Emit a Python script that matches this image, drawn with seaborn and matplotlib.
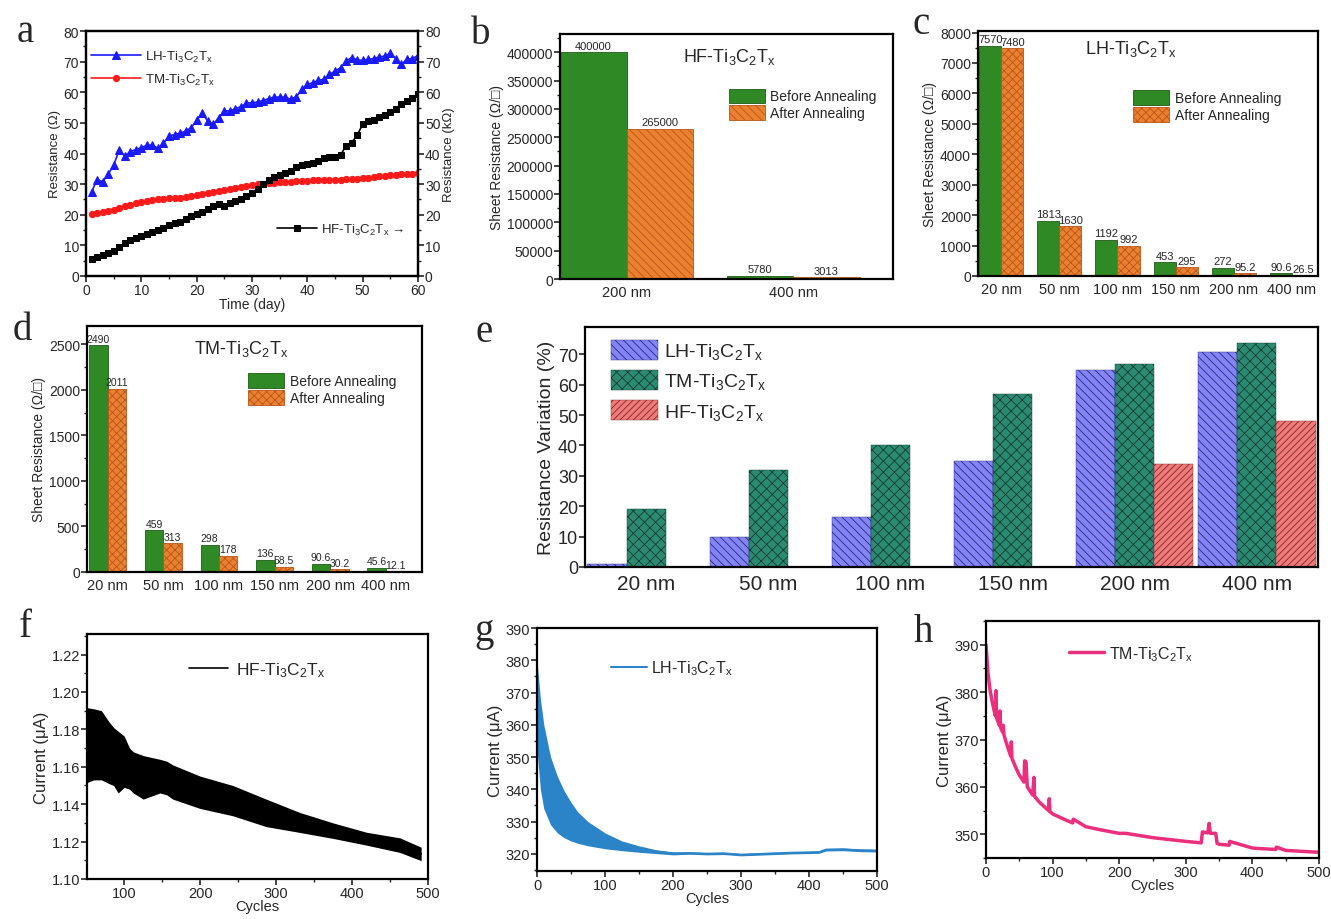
import numpy as np
import pandas as pd
import matplotlib
matplotlib.use("Agg")
import matplotlib.pyplot as plt
from matplotlib.ticker import MultipleLocator
import seaborn as sns

# ---------------- data ----------------
# a: resistance vs storage time
days = list(range(1, 61))
lh_res = [27.4, 31.5, 30.8, 33.2, 36.2, 41.1, 39.2, 40.6, 41.3, 41.9,
          42.7, 42.7, 41.7, 43.3, 45.7, 46.2, 46.6, 47.3, 48.4, 50.9,
          53.1, 50.6, 49.5, 51.7, 53.9, 53.9, 54.6, 55.3, 56.4, 56.6,
          56.8, 57.3, 57.9, 58.4, 58.4, 58.4, 57.7, 58.5, 60.9, 62.6,
          63.1, 63.9, 64.2, 65.8, 66.9, 68.0, 70.2, 71.3, 70.5, 70.4,
          70.7, 71.0, 71.5, 71.8, 72.7, 71.0, 69.1, 70.7, 71.0, 72.0]
tm_res = [20.2, 20.5, 20.8, 21.2, 21.7, 22.3, 22.8, 23.3, 23.8, 24.2,
          24.5, 24.8, 25.0, 25.2, 25.5, 25.5, 25.6, 25.8, 26.2, 26.5,
          26.8, 27.1, 27.4, 27.7, 28.0, 28.4, 28.8, 29.1, 29.4, 29.7,
          29.9, 30.1, 30.3, 30.5, 30.6, 30.7, 30.8, 30.9, 31.0, 31.1,
          31.2, 31.3, 31.4, 31.4, 31.5, 31.5, 31.6, 31.7, 31.8, 32.0,
          31.9, 32.2, 32.5, 32.7, 32.9, 33.0, 33.2, 33.3, 33.4, 33.5]
hf_res = [5.5, 6.2, 7.0, 7.5, 8.3, 9.5, 10.8, 11.6, 12.5, 13.2,
          13.8, 14.4, 15.0, 15.7, 16.5, 17.2, 17.5, 18.5, 19.5, 20.3,
          21.0, 21.8, 22.7, 23.4, 23.0, 23.8, 24.5, 25.0, 26.0, 27.2,
          28.5, 30.0, 31.3, 32.3, 33.0, 33.5, 34.2, 35.5, 36.2, 36.5,
          37.0, 37.5, 38.5, 38.8, 39.0, 39.5, 42.5, 43.5, 46.0, 49.5,
          50.5, 51.0, 51.8, 52.5, 53.5, 54.5, 56.0, 57.0, 58.0, 59.3]

# b, c, d: sheet resistance before / after annealing
hf_thick = ['200 nm', '400 nm']
hf_before = [400000, 5780]
hf_after = [265000, 3013]
thick = ['20 nm', '50 nm', '100 nm', '150 nm', '200 nm', '400 nm']
lh_before = [7570, 1813, 1192, 453, 272, 90.6]
lh_after = [7480, 1630, 992, 295, 95.2, 26.5]
tm_before = [2490, 459, 298, 136, 90.6, 45.6]
tm_after = [2011, 313, 178, 58.5, 30.2, 12.1]

# e: resistance variation (%)
var_lh = [0.9, 10.0, 16.6, 35.0, 64.9, 70.8]
var_tm = [19.1, 31.9, 40.3, 57.1, 66.7, 73.6]
var_hf = [np.nan, np.nan, np.nan, np.nan, 33.8, 47.9]

# f: HF current band (upper / lower envelope)
f_cyc = [51, 60, 70, 80, 86, 92, 100, 107, 112, 125, 147, 156, 164, 200,
         243, 287, 331, 375, 419, 463, 491]
f_upper = [1.1916, 1.191, 1.190, 1.184, 1.181, 1.179, 1.1764, 1.170, 1.168,
           1.166, 1.164, 1.163, 1.161, 1.155, 1.150, 1.1427, 1.1356, 1.130,
           1.125, 1.122, 1.117]
f_lower = [1.1516, 1.153, 1.153, 1.151, 1.150, 1.146, 1.149, 1.148, 1.146,
           1.1427, 1.146, 1.145, 1.1427, 1.1377, 1.1338, 1.128, 1.1249,
           1.1217, 1.1181, 1.1142, 1.1098]

# g: LH current band
g_cyc = [0, 5, 10, 20, 30, 40, 50, 60, 75, 100, 125, 150, 175, 200, 225,
         250, 275, 300, 325, 350, 375, 400, 415, 425, 450, 475, 500]
g_upper = [380, 368, 360, 350, 344, 339.5, 336, 333, 330, 326.5, 324, 322.5,
           321.3, 320.6, 320.6, 320.4, 320.5, 320.1, 320.3, 320.5, 320.7,
           320.8, 320.9, 321.7, 321.8, 321.5, 321.4]
g_lower = [352, 340, 334, 329, 326.5, 325, 324, 323.3, 322.5, 321.6, 321,
           320.5, 320.1, 319.7, 319.9, 319.7, 319.8, 319.4, 319.6, 319.8,
           320.0, 320.1, 320.2, 320.9, 321.0, 320.7, 320.6]

# h: TM current trace
h_cyc = [0, 3, 6, 10, 14, 15, 16, 20, 21, 22, 25, 26, 27, 30, 37, 38, 39,
         45, 50, 57, 58, 60, 62, 63, 70, 72, 73, 80, 94, 95, 96, 100, 120,
         130, 131, 150, 170, 200, 210, 250, 300, 323, 325, 333, 335, 337,
         345, 347, 350, 365, 366, 400, 410, 435, 436, 450, 500]
h_cur = [390, 384, 380.5, 377.5, 375, 380.3, 374.5, 373, 376, 372.5, 371.5,
         373, 371, 369.5, 366.5, 369.5, 366, 364, 362.5, 361, 365.5, 365.3,
         360, 359.8, 358.3, 362, 358, 356.8, 355, 357.5, 354.8, 354.3, 353,
         352.4, 353.2, 351.6, 351, 350.2, 350.2, 349.3, 348.5, 348.2, 350.5,
         350.3, 352.3, 350.2, 350.2, 348.1, 347.9, 347.7, 348.5, 347.1, 347.0,
         346.8, 347.3, 346.6, 346.2]

LH = 'LH-Ti$_3$C$_2$T$_x$'
TM = 'TM-Ti$_3$C$_2$T$_x$'
HF = 'HF-Ti$_3$C$_2$T$_x$'
GREEN = '#2f8a26'
ORANGE = '#eb8030'

# ---------------- style ----------------
sns.set_style('ticks')
plt.rcParams['font.family'] = ['Liberation Sans', 'DejaVu Sans']
plt.rcParams['mathtext.default'] = 'regular'
plt.rcParams['axes.linewidth'] = 1.6
plt.rcParams['xtick.direction'] = 'out'
plt.rcParams['ytick.direction'] = 'out'
plt.rcParams['xtick.major.width'] = 1.2
plt.rcParams['ytick.major.width'] = 1.2
plt.rcParams['xtick.minor.width'] = 1.0
plt.rcParams['ytick.minor.width'] = 1.0
plt.rcParams['xtick.major.size'] = 4
plt.rcParams['ytick.major.size'] = 4
plt.rcParams['xtick.minor.size'] = 2.5
plt.rcParams['ytick.minor.size'] = 2.5
plt.rcParams['hatch.linewidth'] = 0.6

W, H = 1331, 920
fig = plt.figure(figsize=(W / 100, H / 100), dpi=100)


def px_axes(l, t, r, b):
    return fig.add_axes([l / W, 1 - b / H, (r - l) / W, (b - t) / H])


def letter(x, y, s):
    fig.text(x / W, 1 - y / H, s, fontsize=28, family='Liberation Serif',
             ha='center', va='center')


def box(ax):
    for sp in ax.spines.values():
        sp.set_visible(True)
        sp.set_color('black')
        sp.set_linewidth(1.6)


# ---------------- a ----------------
ax = px_axes(86, 32, 418, 277)
sns.lineplot(x=days, y=lh_res, ax=ax, color='#1a1aff', marker='^', markersize=6,
             markeredgecolor='#1a1aff', linewidth=1.2, label=LH)
sns.lineplot(x=days, y=tm_res, ax=ax, color='#ff1a1a', marker='o', markersize=4.5,
             markeredgecolor='#ff1a1a', linewidth=1.2, label=TM)
ax.set_xlim(0, 60)
ax.set_ylim(0, 80)
ax.xaxis.set_major_locator(MultipleLocator(10))
ax.xaxis.set_minor_locator(MultipleLocator(5))
ax.yaxis.set_major_locator(MultipleLocator(10))
ax.yaxis.set_minor_locator(MultipleLocator(5))
ax.tick_params(labelsize=10, pad=1)
ax.set_xlabel('Time (day)', fontsize=10, labelpad=0)
ax.set_ylabel('Resistance (Ω)', fontsize=9.5, labelpad=2)
ax.legend(loc='upper left', bbox_to_anchor=(0.0, 0.95), frameon=False,
          fontsize=9.5, handlelength=3.8, borderaxespad=0, labelspacing=0.6,
          handletextpad=0.3)
ax2 = ax.twinx()
sns.lineplot(x=days, y=hf_res, ax=ax2, color='black', marker='s', markersize=4,
             markeredgecolor='black', linewidth=1.2, label=HF + ' →')
ax2.set_ylim(0, 80)
ax2.yaxis.set_major_locator(MultipleLocator(10))
ax2.yaxis.set_minor_locator(MultipleLocator(5))
ax2.tick_params(labelsize=10, pad=1)
ax2.set_ylabel('Resistance (kΩ)', fontsize=9.5, labelpad=2)
ax2.legend(loc='center left', bbox_to_anchor=(0.56, 0.19), frameon=False,
           fontsize=9.5, handlelength=3.0, borderaxespad=0, handletextpad=0.3)
box(ax)
box(ax2)


# ---------------- b, c, d ----------------
def sheet_bars(ax, cats, before, after, title, title_xy, leg_xy, ymax, major,
               minor, xlim, width, hatch, label_size):
    df = pd.DataFrame({
        'thickness': cats * 2,
        'state': ['Before Annealing'] * len(cats) + ['After Annealing'] * len(cats),
        'value': before + after,
    })
    sns.barplot(data=df, x='thickness', y='value', hue='state',
                palette=[GREEN, ORANGE], width=width, saturation=1,
                legend=False, ax=ax)
    for p in ax.containers[0]:
        p.set_edgecolor('#1f5a18')
        p.set_linewidth(0.6)
    for p in ax.containers[1]:
        p.set_edgecolor('#b8561a')
        p.set_linewidth(0.6)
        p.set_hatch(hatch)
    for cont, vals in zip(ax.containers[:2], [before, after]):
        ax.bar_label(cont, labels=[f'{v:g}' for v in vals], fontsize=label_size,
                     padding=1)
    ax.set_ylim(0, ymax)
    ax.set_xlim(*xlim)
    ax.yaxis.set_major_locator(MultipleLocator(major))
    ax.yaxis.set_minor_locator(MultipleLocator(minor))
    ax.tick_params(axis='x', length=0, labelsize=10.5, pad=4)
    ax.tick_params(axis='y', labelsize=10, pad=1)
    ax.set_xlabel('')
    ax.set_ylabel('Sheet Resistance (Ω/□)', fontsize=10, labelpad=2)
    ax.text(title_xy[0], title_xy[1], title, transform=ax.transAxes,
            fontsize=13, ha='center', va='center')
    ax.legend(handles=ax.containers[:2],
              labels=['Before Annealing', 'After Annealing'],
              loc='upper left', bbox_to_anchor=leg_xy, frameon=False,
              fontsize=10, handlelength=2.6, handleheight=1.2,
              borderaxespad=0, labelspacing=0.15, handletextpad=0.4)
    box(ax)


ax = px_axes(560, 35, 893, 280)
sheet_bars(ax, hf_thick, hf_before, hf_after, HF, (0.51, 0.91), (0.49, 0.80),
           432000, 50000, 25000, (-0.4, 1.6), 0.8, '\\\\\\\\', 8)

ax = px_axes(978, 32, 1318, 277)
sheet_bars(ax, thick, lh_before, lh_after, LH, (0.45, 0.93), (0.44, 0.78),
           8050, 1000, 500, (-0.4, 5.45), 0.76, 'xxxx', 8)

ax = px_axes(87, 327, 422, 573)
sheet_bars(ax, thick, tm_before, tm_after, TM, (0.46, 0.91), (0.465, 0.83),
           2700, 500, 250, (-0.37, 5.65), 0.66, 'xxxx', 7.5)

# ---------------- e ----------------
ax = px_axes(585, 328, 1318, 568)
df_e = pd.DataFrame({
    'thickness': thick * 3,
    'sample': [LH] * 6 + [TM] * 6 + [HF] * 6,
    'value': var_lh + var_tm + var_hf,
})
sns.barplot(data=df_e, x='thickness', y='value', hue='sample',
            palette=['#8484fa', '#2b8a72', '#f07a7a'], width=0.96,
            saturation=1, legend=False, ax=ax)
e_style = [('#2a2a70', '\\\\\\\\'), ('#143d30', 'xxx'), ('#7a2a2a', '/////')]
for cont, (ec, hatch) in zip(ax.containers, e_style):
    for p in cont:
        p.set_edgecolor(ec)
        p.set_linewidth(0.3)
        p.set_hatch(hatch)
ax.set_xlim(-0.5, 5.5)
ax.set_ylim(0, 79)
ax.yaxis.set_major_locator(MultipleLocator(10))
ax.tick_params(axis='x', length=0, labelsize=15, pad=5)
ax.tick_params(axis='y', labelsize=13, pad=1)
ax.set_xlabel('')
ax.set_ylabel('Resistance Variation (%)', fontsize=14, labelpad=2)
ax.legend(handles=ax.containers[:3], labels=[LH, TM, HF], loc='upper left',
          bbox_to_anchor=(0.025, 0.98), frameon=False, fontsize=14,
          handlelength=2.4, handleheight=1.2, borderaxespad=0,
          labelspacing=0.45, handletextpad=0.3)
box(ax)


# ---------------- f, g, h ----------------
def cycle_axes(ax, xlim, ylim, ymajor, yminor, xmajor=100, xminor=50):
    ax.set_xlim(*xlim)
    ax.set_ylim(*ylim)
    ax.xaxis.set_major_locator(MultipleLocator(xmajor))
    ax.xaxis.set_minor_locator(MultipleLocator(xminor))
    ax.yaxis.set_major_locator(MultipleLocator(ymajor))
    ax.yaxis.set_minor_locator(MultipleLocator(yminor))
    ax.tick_params(labelsize=10.5, pad=1)
    ax.set_xlabel('Cycles', fontsize=10.5, labelpad=-1)
    ax.set_ylabel('Current (μA)', fontsize=12, labelpad=2)
    box(ax)


def band(ax, cyc, upper, lower, color, label, lw):
    df = pd.DataFrame({'cycle': cyc + cyc, 'current': upper + lower})
    sns.lineplot(data=df, x='cycle', y='current', estimator='mean',
                 errorbar=('pi', 100), color=color, linewidth=lw,
                 err_kws={'alpha': 1, 'linewidth': 0}, label=label, ax=ax)


ax = px_axes(87, 635, 428, 880)
band(ax, f_cyc, f_upper, f_lower, 'black', HF, 1.2)
cycle_axes(ax, (51, 500), (1.10, 1.231), 0.02, 0.01)
ax.yaxis.set_major_formatter(matplotlib.ticker.FormatStrFormatter('%.2f'))
ax.legend(loc='upper left', bbox_to_anchor=(0.28, 0.92), frameon=False,
          fontsize=12.5, handlelength=2.2, borderaxespad=0, handletextpad=0.5)

ax = px_axes(537, 629, 877, 872)
band(ax, g_cyc, g_upper, g_lower, '#2b84c8', LH, 1.5)
cycle_axes(ax, (0, 500), (314.7, 390), 10, 5)
ax.legend(loc='upper left', bbox_to_anchor=(0.2, 0.9), frameon=False,
          fontsize=11.5, handlelength=2.2, borderaxespad=0, handletextpad=0.3)

ax = px_axes(986, 622, 1319, 859)
sns.lineplot(x=h_cyc, y=h_cur, estimator=None, sort=False, color='#ea2f7d',
             linewidth=2.5, label=TM, ax=ax)
cycle_axes(ax, (0, 500), (345, 395), 10, 5)
ax.legend(loc='upper left', bbox_to_anchor=(0.23, 0.93), frameon=False,
          fontsize=11.5, handlelength=2.2, borderaxespad=0, handletextpad=0.3)

# panel letters
letter(25, 33, 'a')
letter(481, 35, 'b')
letter(921, 25, 'c')
letter(22, 330, 'd')
letter(484, 333, 'e')
letter(25, 628, 'f')
letter(484, 632, 'g')
letter(923, 632, 'h')

fig.savefig('out.png', dpi=100)
